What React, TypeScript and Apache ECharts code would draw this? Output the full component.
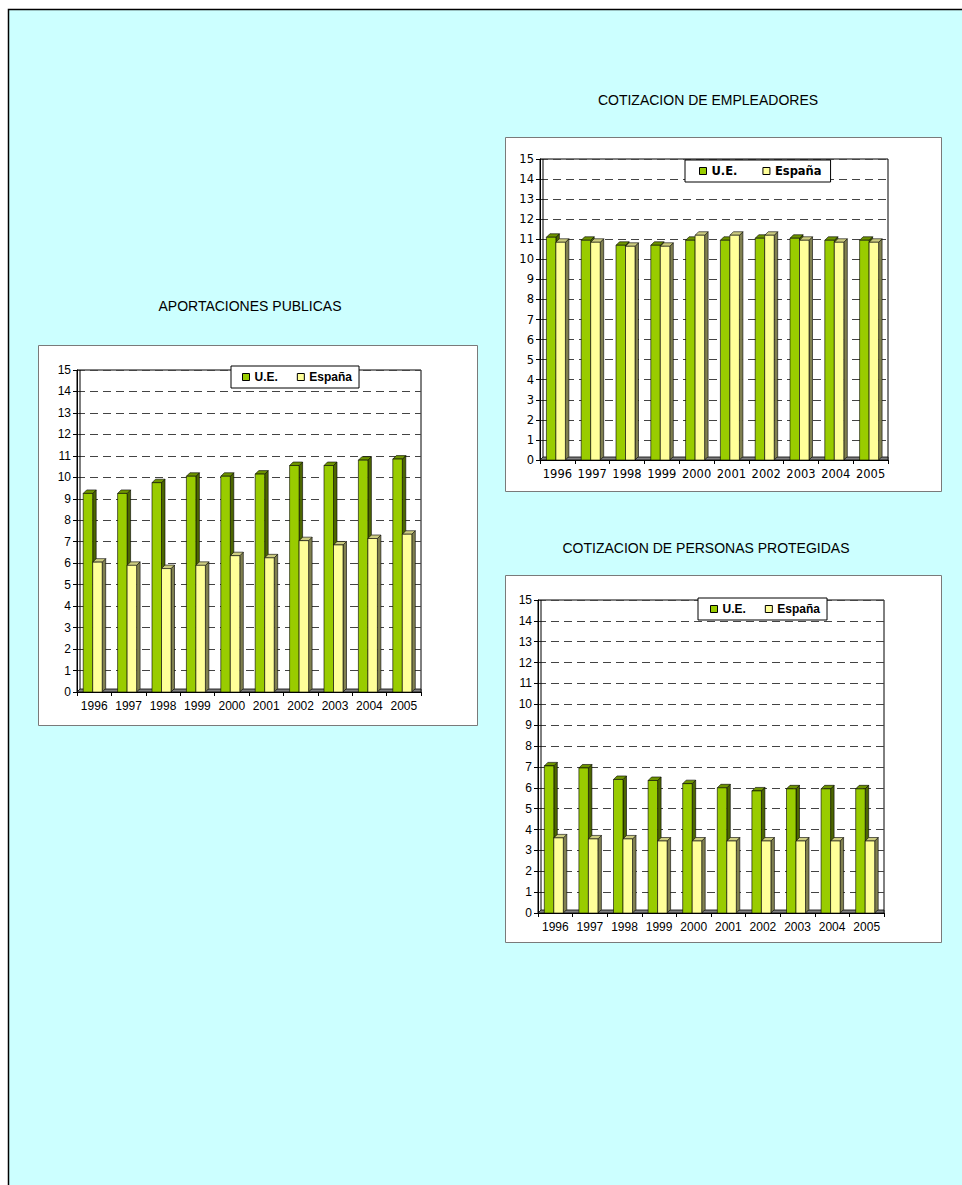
import React, { useEffect, useRef } from "react";
import * as echarts from "echarts";

const years = ["1996", "1997", "1998", "1999", "2000", "2001", "2002", "2003", "2004", "2005"];
const seriesNames = ["U.E.", "España"];
const titles = ["APORTACIONES PUBLICAS", "COTIZACION DE EMPLEADORES", "COTIZACION DE PERSONAS PROTEGIDAS"];

const aportUE = [9.25, 9.25, 9.75, 10.05, 10.05, 10.15, 10.55, 10.55, 10.8, 10.85];
const aportES = [6.05, 5.9, 5.75, 5.9, 6.35, 6.25, 7.05, 6.85, 7.15, 7.35];
const emplUE = [11.1, 10.95, 10.7, 10.7, 10.95, 10.95, 11.05, 11.05, 10.95, 10.95];
const emplES = [10.85, 10.85, 10.65, 10.65, 11.2, 11.2, 11.2, 10.95, 10.85, 10.85];
const protUE = [7.05, 6.95, 6.4, 6.35, 6.2, 6.0, 5.85, 5.95, 5.95, 5.95];
const protES = [3.6, 3.55, 3.55, 3.45, 3.45, 3.45, 3.45, 3.45, 3.45, 3.45];

const yTicksMax = 15;

const ARIAL = '"Liberation Sans", Arial, sans-serif';
const DEJAVU = '"DejaVu Sans", Verdana, sans-serif';

const palettes = [
  { front: "#99CC00", side: "#4C6600", top: "#6E9400" },
  { front: "#FFFF99", side: "#808050", top: "#CCCC80" },
];

const BW = 9.5;
const D = 3.5;
const SHIFT = -1.5;

function barRender(seriesIdx: number) {
  return (params: any, api: any) => {
    const cat = api.value(0);
    const v = api.value(1);
    const pTop = api.coord([cat, v]);
    const pBase = api.coord([cat, 0]);
    const cx = pTop[0] + SHIFT;
    const yT = pTop[1];
    const y0 = pBase[1];
    const L = seriesIdx === 0 ? cx - BW : cx;
    const R = L + BW;
    const c = palettes[seriesIdx];
    const stroke = { stroke: "#000", lineWidth: 0.6 };
    return {
      type: "group",
      children: [
        {
          type: "polygon",
          shape: { points: [[R, yT], [R + D, yT - D], [R + D, y0 - D], [R, y0]] },
          style: { fill: c.side, ...stroke },
        },
        {
          type: "polygon",
          shape: { points: [[L, yT], [R, yT], [R + D, yT - D], [L + D, yT - D]] },
          style: { fill: c.top, ...stroke },
        },
        {
          type: "rect",
          shape: { x: L, y: yT, width: BW, height: y0 - yT },
          style: { fill: c.front, ...stroke },
        },
      ],
    };
  };
}

function frameRender(params: any, api: any) {
  const cs = params.coordSys;
  const x = cs.x, y = cs.y, w = cs.width, h = cs.height;
  return {
    type: "group",
    children: [
      {
        type: "polygon",
        shape: { points: [[x, y + h], [x + w, y + h], [x + w, y + h - 3], [x + 3, y + h - 3]] },
        style: { fill: "#808080", stroke: "#000", lineWidth: 0.8 },
      },
      {
        type: "line",
        shape: { x1: x + 3, y1: y, x2: x + 3, y2: y + h - 3 },
        style: { stroke: "#000", lineWidth: 1 },
      },
    ],
  };
}

type ChartSpec = {
  grid: { left: number; top: number; width: number; height: number };
  legend: { left: number; top: number; padL: number; padR: number; gap: number };
  font: string;
  fontSize: number;
  ue: number[];
  es: number[];
};

const specs: ChartSpec[] = [
  {
    grid: { left: 77, top: 370, width: 344, height: 322 },
    legend: { left: 231, top: 366, padL: 11, padR: 7, gap: 19 },
    font: ARIAL,
    fontSize: 12,
    ue: aportUE,
    es: aportES,
  },
  {
    grid: { left: 540, top: 159, width: 348, height: 301 },
    legend: { left: 685, top: 160, padL: 14, padR: 9, gap: 25 },
    font: DEJAVU,
    fontSize: 11.5,
    ue: emplUE,
    es: emplES,
  },
  {
    grid: { left: 538, top: 600, width: 346, height: 313 },
    legend: { left: 698, top: 598, padL: 12, padR: 7, gap: 19 },
    font: ARIAL,
    fontSize: 12,
    ue: protUE,
    es: protES,
  },
];

const boxes = [
  { x: 38, y: 345, w: 439, h: 380 },
  { x: 505, y: 137, w: 436, h: 354 },
  { x: 505, y: 575, w: 436, h: 367 },
];
const titlePos = [
  { x: 250, y: 306 },
  { x: 708, y: 100 },
  { x: 706, y: 548 },
];

export default function App() {
  const ref = useRef<HTMLDivElement>(null);
  useEffect(() => {
    if (!ref.current) return;
    const chart = echarts.init(ref.current, null, { renderer: "svg" });

    const grids: any[] = [];
    const xAxes: any[] = [];
    const yAxes: any[] = [];
    const legends: any[] = [];
    const series: any[] = [];

    specs.forEach((s, i) => {
      grids.push({
        left: s.grid.left,
        top: s.grid.top,
        width: s.grid.width,
        height: s.grid.height,
        show: true,
        borderColor: "#000",
        borderWidth: 1,
        backgroundColor: "transparent",
      });
      xAxes.push({
        type: "category",
        gridIndex: i,
        data: years,
        boundaryGap: true,
        axisLine: { show: true, lineStyle: { color: "#000", width: 1 } },
        axisTick: { show: true, length: 4, lineStyle: { color: "#000" } },
        axisLabel: { color: "#000", fontFamily: s.font, fontSize: s.fontSize, margin: 8, interval: 0 },
        splitLine: { show: false },
      });
      yAxes.push({
        type: "value",
        gridIndex: i,
        min: 0,
        max: yTicksMax,
        interval: 1,
        axisLine: { show: true, lineStyle: { color: "#000", width: 1 } },
        axisTick: { show: true, length: 4, lineStyle: { color: "#000" } },
        axisLabel: { color: "#000", fontFamily: s.font, fontSize: s.fontSize, margin: 6 },
        splitLine: { show: true, lineStyle: { color: "#444", width: 1, type: [8, 5] } },
      });
      legends.push({
        left: s.legend.left,
        top: s.legend.top,
        orient: "horizontal",
        data: seriesNames,
        icon: "rect",
        itemWidth: 7,
        itemHeight: 7,
        itemGap: s.legend.gap,
        padding: [5, s.legend.padR, 5, s.legend.padL],
        borderColor: "#000",
        borderWidth: 1,
        backgroundColor: "#fff",
        itemStyle: { borderColor: "#000", borderWidth: 1 },
        textStyle: { fontFamily: s.font, fontSize: s.fontSize, fontWeight: "bold", color: "#000" },
        selectedMode: false,
        z: 5,
      });
      series.push({
        type: "custom",
        name: "frame" + i,
        xAxisIndex: i,
        yAxisIndex: i,
        data: [[0, 0]],
        renderItem: frameRender,
        silent: true,
        z: 1,
      });
      [s.ue, s.es].forEach((arr, k) => {
        series.push({
          type: "custom",
          name: seriesNames[k],
          xAxisIndex: i,
          yAxisIndex: i,
          data: arr.map((v, j) => [j, v]),
          encode: { x: 0, y: 1 },
          renderItem: barRender(k),
          itemStyle: { color: palettes[k].front },
          z: 2 + k,
        });
      });
    });

    const graphic: any[] = [
      {
        type: "rect",
        shape: { x: 8.5, y: 9.5, width: 980, height: 1200 },
        style: { fill: "#CCFFFF", stroke: "#000", lineWidth: 1.5 },
        z: -20,
        silent: true,
      },
      ...boxes.map((b) => ({
        type: "rect",
        shape: { x: b.x + 0.5, y: b.y + 0.5, width: b.w, height: b.h },
        style: { fill: "#fff", stroke: "#7a7a7a", lineWidth: 1 },
        z: -10,
        silent: true,
      })),
      ...titles.map((t, i) => ({
        type: "text",
        x: titlePos[i].x,
        y: titlePos[i].y,
        style: {
          text: t,
          fill: "#000",
          font: `14px ${ARIAL}`,
          textAlign: "center",
          textVerticalAlign: "middle",
        },
        z: -5,
        silent: true,
      })),
    ];

    chart.setOption({
      animation: false,
      grid: grids,
      xAxis: xAxes,
      yAxis: yAxes,
      legend: legends,
      series,
      graphic,
    });

    return () => chart.dispose();
  }, []);

  return (
    <div
      ref={ref}
      style={{ position: "absolute", left: 0, top: 0, width: 962, height: 1185 }}
    />
  );
}
